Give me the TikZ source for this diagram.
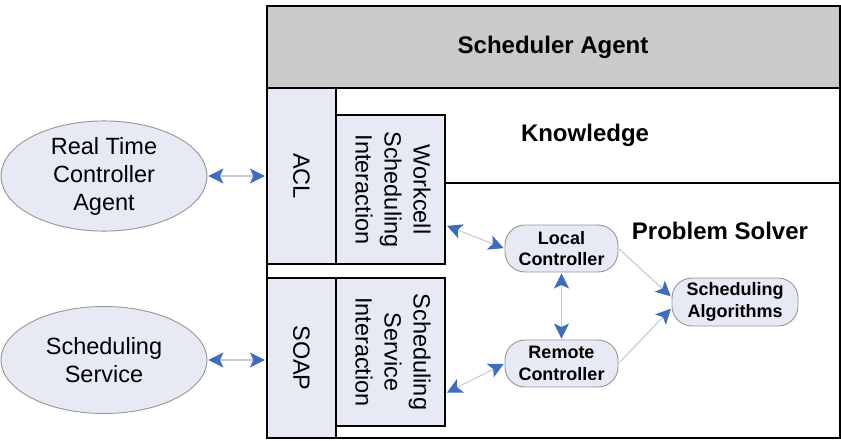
\documentclass[tikz,border=0pt]{standalone}
\usepackage{fontspec}
\setmainfont{Liberation Sans}
\usetikzlibrary{arrows.meta,shapes.geometric}

\definecolor{bandgray}{RGB}{202,202,202}
\definecolor{lav}{RGB}{231,233,245}
\definecolor{edgegray}{RGB}{150,150,150}
\definecolor{tipblue}{RGB}{62,108,190}
\definecolor{linkline}{RGB}{196,202,218}

\begin{document}
\begin{tikzpicture}[x=1pt,y=-1pt,
  frame/.style={draw=black, line width=2.2pt},
  panel/.style={draw=black, line width=2.2pt, fill=lav, inner sep=0pt,
    font=\fontsize{23.5}{29}\selectfont},
  agent/.style={ellipse, draw=edgegray, line width=0.9pt, fill=lav, inner sep=0pt,
    minimum width=206pt, minimum height=107pt, align=center,
    font=\fontsize{23.5}{28}\selectfont},
  module/.style={rounded corners=20pt, draw=edgegray, line width=0.9pt, fill=lav,
    inner sep=0pt, align=center, font=\bfseries\fontsize{18}{21.5}\selectfont},
  title/.style={font=\bfseries\fontsize{24}{29}\selectfont, inner sep=0pt},
  link/.style={draw=linkline, line width=1.1pt, shorten <=1pt, shorten >=1pt,
    >={Stealth[length=15pt,width=15pt,inset=3.5pt,color=tipblue]}}
]
\fill[white] (0,0) rectangle (841,440);
\useasboundingbox (0,0) rectangle (841,440);

% scheduler agent frame
\fill[bandgray] (267,6) rectangle (840,88);
\draw[frame] (267,6) rectangle (840,438);
\draw[frame] (267,88) -- (840,88);
\draw[frame] (445,183) -- (840,183);

\node[title] (sched) at (553,47) {Scheduler Agent};
\node[title] (know) at (585,135) {Knowledge};
\node[title] (solver) at (720,231) {Problem Solver};

% communication panels
\node[panel, minimum width=69pt, minimum height=176pt] (acl) at (301.5,176)
  {\rotatebox{-90}{ACL}};
\node[panel, minimum width=69pt, minimum height=160pt] (soap) at (301.5,358)
  {\rotatebox{-90}{SOAP}};
\node[panel, minimum width=109pt, minimum height=149pt] (wsi) at (390.5,189.5)
  {\rotatebox{-90}{\begin{tabular}{@{}c@{}}Workcell\\Scheduling\\Interaction\end{tabular}}};
\node[panel, minimum width=109pt, minimum height=148pt] (ssi) at (390.5,352)
  {\rotatebox{-90}{\begin{tabular}{@{}c@{}}Scheduling\\Service\\Interaction\end{tabular}}};

% external agents
\node[agent] (rtca) at (104,176) {Real Time\\Controller\\Agent};
\node[agent] (ss) at (104,360) {Scheduling\\Service};

% problem solver modules
\node[module, minimum width=113pt, minimum height=47pt] (local) at (561.5,248.5)
  {Local\\Controller};
\node[module, minimum width=113pt, minimum height=47pt] (remote) at (561.5,363.5)
  {Remote\\Controller};
\node[module, minimum width=126pt, minimum height=48pt] (sa) at (735,302)
  {Scheduling\\Algorithms};

% connectors
\draw[link,<->] (rtca.east) -- (acl.west);
\draw[link,<->] (ss.east) -- (ss.east -| soap.west);
\draw[link,<->] ([yshift=-36pt]wsi.east) -- (local.west);
\draw[link,<->] ([yshift=-41pt]ssi.east) -- (remote.west);
\draw[link,<->] (local.south) -- (remote.north);
\draw[link,->] (local.east) -- ([yshift=5pt]sa.west);
\draw[link,->] (remote.east) -- ([yshift=-6pt]sa.west);
\end{tikzpicture}
\end{document}
